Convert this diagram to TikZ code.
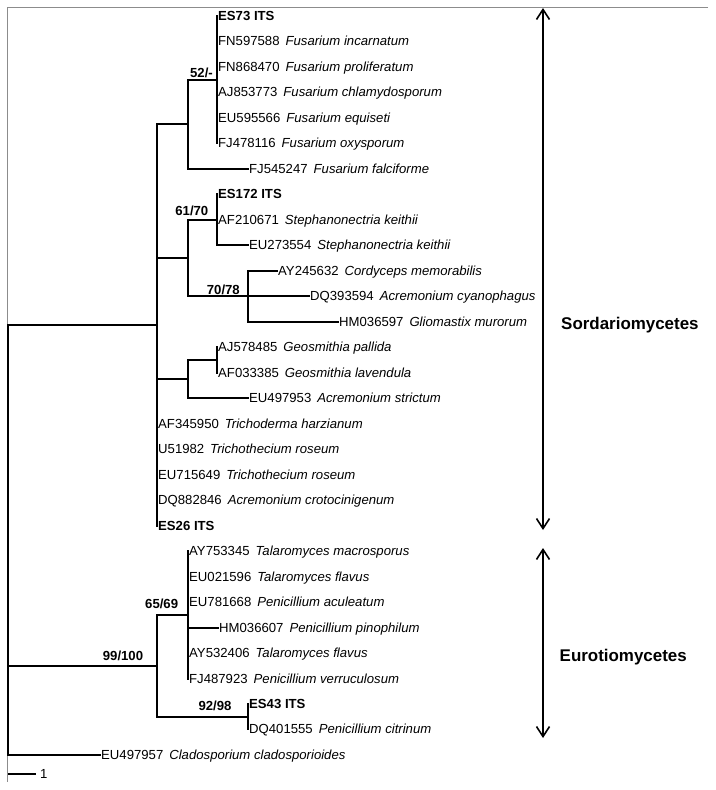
\documentclass[tikz,border=0pt]{standalone}
\usepackage{fontspec}
\setmainfont{Liberation Sans}
\usetikzlibrary{arrows.meta}
\newcommand\acc[2]{#1\hspace{6pt}\textit{#2}}
\begin{document}
\begin{tikzpicture}[x=1bp,y=-1bp,
  br/.style={line width=1.8bp, line join=miter, line cap=rect},
  tip/.style={anchor=west, inner xsep=1pt, inner ysep=0pt, text height=9.5pt, text depth=0pt, font=\fontsize{13.2}{15}\selectfont},
  bs/.style={anchor=base east, inner sep=0pt, font=\bfseries\fontsize{13.2}{15}\selectfont},
  cls/.style={anchor=base west, inner sep=0pt, font=\bfseries\fontsize{17}{20}\selectfont},
  frame/.style={draw=black!45, line width=1bp},
  dbl/.style={{Straight Barb[length=10bp,width=13bp]}-{Straight Barb[length=10bp,width=13bp]}, line width=1.6bp}]
\fill[white] (0,0) rectangle (716,790);
\useasboundingbox (0,0) rectangle (716,790);
% frame
\coordinate (fTL) at (7.5,7.5);
\coordinate (fTR) at (708,7.5);
\coordinate (fBL) at (7.5,782);
\draw[frame] (fTR) -- (fTL) -- (fBL);
% tips
\node[tip] (t0) at (217,16) {\textbf{ES73 ITS}};
\node[tip] (t1) at (217,41) {\acc{FN597588}{Fusarium incarnatum}};
\node[tip] (t2) at (217,67) {\acc{FN868470}{Fusarium proliferatum}};
\node[tip] (t3) at (217,92) {\acc{AJ853773}{Fusarium chlamydosporum}};
\node[tip] (t4) at (217,118) {\acc{EU595566}{Fusarium equiseti}};
\node[tip] (t5) at (217,143) {\acc{FJ478116}{Fusarium oxysporum}};
\node[tip] (t6) at (248,169) {\acc{FJ545247}{Fusarium falciforme}};
\node[tip] (t7) at (217,194) {\textbf{ES172 ITS}};
\node[tip] (t8) at (217,220) {\acc{AF210671}{Stephanonectria keithii}};
\node[tip] (t9) at (248,245) {\acc{EU273554}{Stephanonectria keithii}};
\node[tip] (t10) at (277,271) {\acc{AY245632}{Cordyceps memorabilis}};
\node[tip] (t11) at (309,296) {\acc{DQ393594}{Acremonium cyanophagus}};
\node[tip] (t12) at (338,322) {\acc{HM036597}{Gliomastix murorum}};
\node[tip] (t13) at (217,347) {\acc{AJ578485}{Geosmithia pallida}};
\node[tip] (t14) at (217,373) {\acc{AF033385}{Geosmithia lavendula}};
\node[tip] (t15) at (248,398) {\acc{EU497953}{Acremonium strictum}};
\node[tip] (t16) at (157,424) {\acc{AF345950}{Trichoderma harzianum}};
\node[tip] (t17) at (157,449) {\acc{U51982}{Trichothecium roseum}};
\node[tip] (t18) at (157,475) {\acc{EU715649}{Trichothecium roseum}};
\node[tip] (t19) at (157,500) {\acc{DQ882846}{Acremonium crotocinigenum}};
\node[tip] (t20) at (157,526) {\textbf{ES26 ITS}};
\node[tip] (t21) at (188,551) {\acc{AY753345}{Talaromyces macrosporus}};
\node[tip] (t22) at (188,577) {\acc{EU021596}{Talaromyces flavus}};
\node[tip] (t23) at (188,602) {\acc{EU781668}{Penicillium aculeatum}};
\node[tip] (t24) at (218,628) {\acc{HM036607}{Penicillium pinophilum}};
\node[tip] (t25) at (188,653) {\acc{AY532406}{Talaromyces flavus}};
\node[tip] (t26) at (188,679) {\acc{FJ487923}{Penicillium verruculosum}};
\node[tip] (t27) at (248,704) {\textbf{ES43 ITS}};
\node[tip] (t28) at (248,729) {\acc{DQ401555}{Penicillium citrinum}};
\node[tip] (t29) at (100,755) {\acc{EU497957}{Cladosporium cladosporioides}};
% internal nodes
\coordinate (n52) at (217,80);
\coordinate (nF) at (188,124);
\coordinate (n6170) at (217,220);
\coordinate (n7078) at (248,296);
\coordinate (nSt) at (188,258);
\coordinate (nGs) at (217,360);
\coordinate (nGe) at (188,379);
\coordinate (nS) at (157,325);
\coordinate (n6569) at (188,615);
\coordinate (n9298) at (248,717);
\coordinate (nE) at (157,666);
\coordinate (nR) at (8,540);
% branches
\foreach \c in {t0,t1,t2,t3,t4,t5} \draw[br] (n52) |- (\c.west);
\draw[br] (nF) |- (n52);
\draw[br] (nF) |- (t6.west);
\foreach \c in {t7,t8,t9} \draw[br] (n6170) |- (\c.west);
\foreach \c in {t10,t11,t12} \draw[br] (n7078) |- (\c.west);
\draw[br] (nSt) |- (n6170);
\draw[br] (nSt) |- (n7078);
\foreach \c in {t13,t14} \draw[br] (nGs) |- (\c.west);
\draw[br] (nGe) |- (nGs);
\draw[br] (nGe) |- (t15.west);
\draw[br] (nS) |- (nF);
\draw[br] (nS) |- (nSt);
\draw[br] (nS) |- (nGe);
\foreach \c in {t16,t17,t18,t19,t20} \draw[br] (nS) |- (\c.west);
\foreach \c in {t21,t22,t23,t24,t25,t26} \draw[br] (n6569) |- (\c.west);
\foreach \c in {t27,t28} \draw[br] (n9298) |- (\c.west);
\draw[br] (nE) |- (n6569);
\draw[br] (nE) |- (n9298);
\draw[br] (nR) |- (nS);
\draw[br] (nR) |- (nE);
\draw[br] (nR) |- (t29.west);
% bootstrap labels
\node[bs] (b52) at (213,78) {52/-};
\node[bs] (b6170) at (208.5,215) {61/70};
\node[bs] (b7078) at (240,294) {70/78};
\node[bs] (b6569) at (178.3,608.3) {65/69};
\node[bs] (b99) at (143.3,660) {99/100};
\node[bs] (b9298) at (231.7,710.7) {92/98};
% scale bar
\coordinate (sc0) at (8,774);
\coordinate (sc1) at (36,774);
\draw[line width=1.6bp] (sc0) -- (sc1);
\node[anchor=base west, inner sep=0pt, font=\fontsize{13.2}{15}\selectfont] (scl) at (40,778) {1};
% class arrows
\coordinate (sA) at (543,8);
\coordinate (sB) at (543,530);
\draw[dbl] (sA) -- (sB);
\coordinate (eA) at (543,548);
\coordinate (eB) at (543,738);
\draw[dbl] (eA) -- (eB);
\node[cls] (cS) at (561,329) {Sordariomycetes};
\node[cls] (cE) at (559.5,661) {Eurotiomycetes};
\end{tikzpicture}
\end{document}
